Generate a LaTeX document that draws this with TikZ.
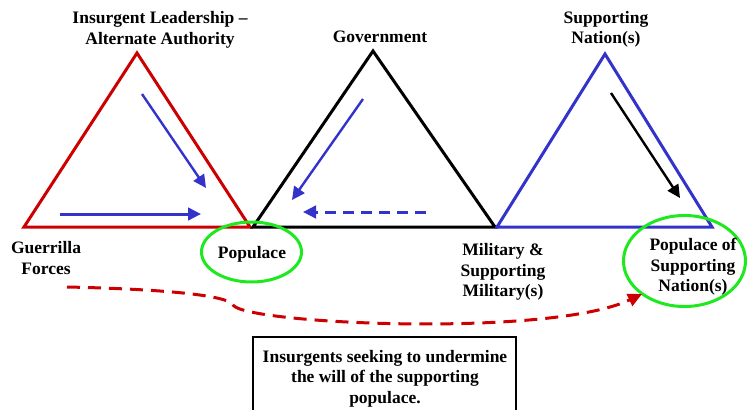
\documentclass[tikz,border=0pt]{standalone}
\usepackage{fontspec}
\setmainfont{Liberation Serif}
\usetikzlibrary{arrows.meta,shapes.geometric}
\definecolor{tred}{RGB}{204,0,0}
\definecolor{tblue}{RGB}{51,51,204}
\definecolor{tgreen}{RGB}{30,232,30}
\begin{document}
\begin{tikzpicture}[x=1pt,y=-1pt,
  lbl/.style={font=\bfseries\fontsize{17.5}{20.5}\selectfont, align=center, inner sep=0pt},
  tri/.style={line width=3pt, line join=miter},
  arr/.style={line width=2.4pt, -{Triangle[length=13pt,width=12.5pt]}},
  ring/.style={ellipse, draw=tgreen, line width=3pt, inner sep=0pt}]
\useasboundingbox (0,0) rectangle (748,410);
% triangle corners
\coordinate (rA) at (137,53);  \coordinate (rL) at (24,227);  \coordinate (rR) at (250,227);
\coordinate (bA) at (373,51);  \coordinate (bL) at (253,227); \coordinate (bR) at (495,227);
\coordinate (uA) at (605,54);  \coordinate (uL) at (497,227); \coordinate (uR) at (712,227);
\draw[tri, tred] (rA) -- (rR) -- (rL) -- cycle;
\draw[tri, black] (bA) -- (bR) -- (bL) -- cycle;
\draw[tri, tblue] (uA) -- (uR) -- (uL) -- cycle;
% arrows
\coordinate (a1s) at (142,94);  \coordinate (a1e) at (206,188);
\coordinate (a2s) at (60,214);  \coordinate (a2e) at (201,214);
\coordinate (a3s) at (363,99);  \coordinate (a3e) at (292,200);
\coordinate (a4s) at (426,212); \coordinate (a4e) at (303,212);
\coordinate (a5s) at (611,93);  \coordinate (a5e) at (680,198);
\draw[arr, tblue] (a1s) -- (a1e);
\draw[arr, tblue, line width=3pt] (a2s) -- (a2e);
\draw[arr, tblue] (a3s) -- (a3e);
\draw[arr, tblue, line width=3pt, dash pattern=on 11pt off 7pt] (a4s) -- (a4e);
\draw[arr, black] (a5s) -- (a5e);
% green rings
\node[ring, minimum width=100pt, minimum height=60pt] (popring) at (251.5,252) {};
\node[ring, minimum width=122pt, minimum height=91pt] (supring) at (684.5,261) {};
% labels
\node[lbl] (lead) at (160,30) {Insurgent Leadership --\\Alternate Authority};
\node[lbl] (gov) at (380,36.5) {Government};
\node[lbl] (supn) at (606,29.5) {Supporting\\Nation(s)};
\node[lbl] (guer) at (46,258) {Guerrilla\\Forces};
\node[lbl] (pop) at (252,254.5) {Populace};
\node[lbl] (mil) at (503,272) {Military \&\\Supporting\\Military(s)};
\node[lbl] (suppop) at (693,267) {Populace of\\Supporting\\Nation(s)};
% red dashed curve
\coordinate (rd0) at (67,287); \coordinate (rd1) at (233,305); \coordinate (rd2) at (642,294);
\draw[tred, line width=3pt, dash pattern=on 13pt off 8pt, -{Triangle[length=14pt,width=13pt]}]
  (rd0) .. controls (160,289) and (228,295) .. (rd1)
  .. controls (245,324) and (550,338) .. (rd2);
% note box
\node[draw, line width=2pt, minimum width=263pt, minimum height=77pt, inner sep=0pt] (notebox) at (384.5,375.5) {};
\node[lbl] (note) at (385,378.5) {Insurgents seeking to undermine\\the will of the supporting\\populace.};
\end{tikzpicture}
\end{document}
